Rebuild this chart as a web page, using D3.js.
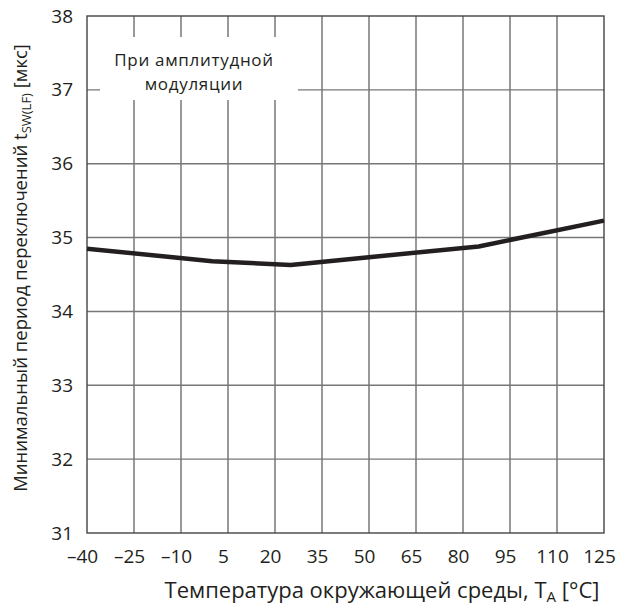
<!DOCTYPE html>
<html>
<head>
<meta charset="utf-8">
<script src="https://cdn.jsdelivr.net/npm/d3@7"></script>
<style>
  html, body { margin: 0; padding: 0; background: #fff; }
  svg { display: block; font-family: "Open Sans", "Noto Sans", sans-serif; }
</style>
</head>
<body>
<svg id="chart" width="618" height="606"></svg>
<script>
// Ambient temperature ticks (°C)
const tempTicks = [-40, -25, -10, 5, 20, 35, 50, 65, 80, 95, 110, 125];
// Period axis ticks (µs)
const periodTicks = [31, 32, 33, 34, 35, 36, 37, 38];
// Measured minimum switching period vs temperature
const curveTemp = [-40, 0, 25, 85, 125];
const curvePeriod = [34.85, 34.68, 34.63, 34.88, 35.23];

const ink = "#231f20";
const svg = d3.select("#chart");

const x = d3.scaleLinear().domain([-40, 125]).range([87, 604]);
const y = d3.scaleLinear().domain([31, 38]).range([533, 16]);

// Grid
const grid = svg.append("g");
grid.selectAll("line.v").data(tempTicks.slice(1, -1)).join("line")
  .attr("x1", d => x(d)).attr("x2", d => x(d))
  .attr("y1", y(38)).attr("y2", y(31))
  .attr("stroke", "#555").attr("stroke-width", 1.2);
grid.selectAll("line.h").data(periodTicks.slice(1, -1)).join("line")
  .attr("x1", x(-40)).attr("x2", x(125))
  .attr("y1", d => y(d)).attr("y2", d => y(d))
  .attr("stroke", "#777").attr("stroke-width", 1.4);

// Frame
svg.append("rect")
  .attr("x", x(-40)).attr("y", y(38))
  .attr("width", x(125) - x(-40)).attr("height", y(31) - y(38))
  .attr("fill", "none").attr("stroke", "#444").attr("stroke-width", 1.4);

// Curve
const line = d3.line()
  .x((d, i) => x(curveTemp[i]))
  .y(d => y(d));
svg.append("path")
  .datum(curvePeriod)
  .attr("d", line)
  .attr("fill", "none")
  .attr("stroke", ink)
  .attr("stroke-width", 4.5)
  .attr("stroke-linejoin", "round");

// Note box
svg.append("rect")
  .attr("x", 100).attr("y", 37).attr("width", 198).attr("height", 63)
  .attr("fill", "#fff");
const note = svg.append("text")
  .attr("text-anchor", "middle").attr("font-size", 17)
  .attr("letter-spacing", 0.7).attr("fill", ink);
note.append("tspan").attr("x", 194).attr("y", 66).text("При амплитудной");
note.append("tspan").attr("x", 194).attr("y", 89.5).text("модуляции");

// Axes labels
const xAxis = d3.axisBottom(x).tickValues(tempTicks).tickSize(0).tickPadding(0)
  .tickFormat(d => d < 0 ? "\u2013" + Math.abs(d) : String(d));
const gx = svg.append("g").attr("transform", `translate(0,${y(31)})`).call(xAxis);
gx.select(".domain").remove();
gx.selectAll("text")
  .attr("font-size", 19).attr("font-family", "Open Sans, sans-serif")
  .attr("fill", ink).attr("dy", 0).attr("y", 30).attr("dx", -5);

const yAxis = d3.axisLeft(y).tickValues(periodTicks).tickSize(0).tickPadding(14)
  .tickFormat(d3.format("d"));
const gy = svg.append("g").attr("transform", `translate(${x(-40)},0)`).call(yAxis);
gy.select(".domain").remove();
gy.selectAll("text")
  .attr("font-size", 19).attr("font-family", "Open Sans, sans-serif")
  .attr("fill", ink);

// Axis titles
const xt = svg.append("text")
  .attr("x", 382).attr("y", 598)
  .attr("text-anchor", "middle").attr("font-size", 22).attr("fill", ink);
xt.append("tspan").text("Температура окружающей среды, T");
xt.append("tspan").attr("font-size", 15).attr("dy", 4).text("A");
xt.append("tspan").attr("dy", -4).text(" [°C]");

const yt = svg.append("text")
  .attr("transform", "rotate(-90)")
  .attr("x", -268).attr("y", 27)
  .attr("text-anchor", "middle").attr("font-size", 18.5).attr("fill", ink);
yt.append("tspan").text("Минимальный период переключений t");
yt.append("tspan").attr("font-size", 13).attr("dy", 4).text("SW(LF)");
yt.append("tspan").attr("dy", -4).text(" [мкс]");
</script>
</body>
</html>
